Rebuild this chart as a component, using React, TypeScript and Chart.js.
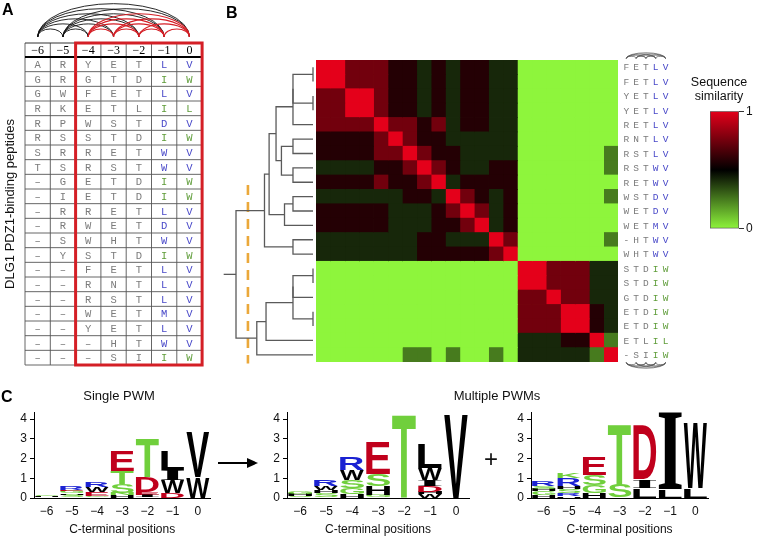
import React, { useEffect, useRef } from 'react';
import { Chart, registerables } from 'chart.js';

Chart.register(...registerables);

const FONT = '"Liberation Sans", Arial, Helvetica, sans-serif';
const MONO = '"Liberation Mono", "DejaVu Sans Mono", monospace';
const SERIF = '"Liberation Serif", "DejaVu Serif", serif';
Chart.defaults.font.family = FONT;
Chart.defaults.color = '#111';

// ---------------- data ----------------
const positionLabels = ['−6', '−5', '−4', '−3', '−2', '−1', '0'];

const peptides = [
  'ARYETLV', 'GRGTDIW', 'GWFETLV', 'RKETLIL', 'RPWSTDV', 'RSSTDIW', 'SRRETWV',
  'TSRSTWV', '-GETDIW', '-IETDIW', '-RRETLV', '-RWETDV', '-SWHTWV', '-YSTDIW',
  '--FETLV', '--RNTLV', '--RSTLV', '--WETMV', '--YETLV', '---HTWV', '---SIIW',
];

const clusterPeptides = [
  'FETLV', 'FETLV', 'YETLV', 'YETLV', 'RETLV', 'RNTLV', 'RSTLV', 'RSTWV', 'RETWV',
  'WSTDV', 'WETDV', 'WETMV', '-HTWV', 'WHTWV', 'STDIW', 'STDIW', 'GTDIW', 'ETDIW',
  'ETDIW', 'ETLIL', '-SIIW',
];

const similarity = [
  [1, 1, .75, .75, .75, .58, .58, .42, .58, .42, .58, .58, .42, .42, 0, 0, 0, 0, 0, 0, 0],
  [1, 1, .75, .75, .75, .58, .58, .42, .58, .42, .58, .58, .42, .42, 0, 0, 0, 0, 0, 0, 0],
  [.75, .75, 1, 1, .75, .58, .58, .42, .58, .42, .58, .58, .42, .42, 0, 0, 0, 0, 0, 0, 0],
  [.75, .75, 1, 1, .75, .58, .58, .42, .58, .42, .58, .58, .42, .42, 0, 0, 0, 0, 0, 0, 0],
  [.75, .75, .75, .75, 1, .75, .75, .58, .75, .42, .58, .58, .42, .42, 0, 0, 0, 0, 0, 0, 0],
  [.58, .58, .58, .58, .75, 1, .75, .58, .58, .42, .42, .42, .42, .42, 0, 0, 0, 0, 0, 0, 0],
  [.58, .58, .58, .58, .75, .75, 1, .75, .58, .58, .42, .42, .42, .42, 0, 0, 0, 0, 0, 0, .25],
  [.42, .42, .42, .42, .58, .58, .75, 1, .75, .58, .42, .42, .58, .58, 0, 0, 0, 0, 0, 0, .25],
  [.58, .58, .58, .58, .75, .58, .58, .75, 1, .42, .58, .58, .58, .58, 0, 0, 0, 0, 0, 0, 0],
  [.42, .42, .42, .42, .42, .42, .58, .58, .42, 1, .75, .58, .42, .58, 0, 0, 0, 0, 0, 0, .25],
  [.58, .58, .58, .58, .58, .42, .42, .42, .58, .75, 1, .75, .42, .58, 0, 0, 0, 0, 0, 0, 0],
  [.58, .58, .58, .58, .58, .42, .42, .42, .58, .58, .75, 1, .42, .58, 0, 0, 0, 0, 0, 0, 0],
  [.42, .42, .42, .42, .42, .42, .42, .58, .58, .42, .42, .42, 1, .75, 0, 0, 0, 0, 0, 0, .25],
  [.42, .42, .42, .42, .42, .42, .42, .58, .58, .58, .58, .58, .75, 1, 0, 0, 0, 0, 0, 0, 0],
  [0, 0, 0, 0, 0, 0, 0, 0, 0, 0, 0, 0, 0, 0, 1, 1, .75, .75, .75, .42, .42],
  [0, 0, 0, 0, 0, 0, 0, 0, 0, 0, 0, 0, 0, 0, 1, 1, .75, .75, .75, .42, .42],
  [0, 0, 0, 0, 0, 0, 0, 0, 0, 0, 0, 0, 0, 0, .75, .75, 1, .75, .75, .42, .42],
  [0, 0, 0, 0, 0, 0, 0, 0, 0, 0, 0, 0, 0, 0, .75, .75, .75, 1, 1, .58, .42],
  [0, 0, 0, 0, 0, 0, 0, 0, 0, 0, 0, 0, 0, 0, .75, .75, .75, 1, 1, .58, .42],
  [0, 0, 0, 0, 0, 0, 0, 0, 0, 0, 0, 0, 0, 0, .42, .42, .42, .58, .58, 1, .25],
  [0, 0, 0, 0, 0, 0, .25, .25, 0, .25, 0, 0, .25, 0, .42, .42, .42, .42, .42, .25, 1],
];

// dendrogram: leaves 0..20, merge k creates node 21+k
const linkLeft = [0, 2, 21, 23, 5, 7, 25, 24, 9, 29, 28, 12, 31, 14, 17, 34, 36, 37, 38, 33];
const linkRight = [1, 3, 22, 4, 6, 8, 26, 27, 10, 11, 30, 13, 32, 15, 18, 16, 35, 19, 20, 39];
const linkHeight = [0, 0, .26, .26, .26, .26, .41, .48, .26, .37, .57, .26, .63, 0, 0, .26, .26, .61, .73, 1.0];
const rootExtent = 1.16;
const cutHeight = 0.845;
const cutRows = [9.2, 21.6];

const colorbarTicks = [0, 1];
const bitTicks = [0, 1, 2, 3, 4];

// sequence logos: per position, letters bottom -> top with heights in bits
const singlePwm = [
  [['S', 0.05], ['H', 0.04], ['G', 0.05]],
  [['S', 0.15], ['H', 0.08], ['G', 0.12], ['E', 0.05], ['R', 0.18]],
  [['G', 0.1], ['E', 0.2], ['W', 0.25], ['R', 0.25]],
  [['H', 0.15], ['N', 0.1], ['S', 0.45], ['T', 0.65], ['E', 1.0]],
  [['I', 0.15], ['E', 0.15], ['D', 0.75], ['T', 1.95]],
  [['D', 0.25], ['W', 0.65], ['I', 0.5], ['L', 0.95]],
  [['W', 1.05], ['V', 2.25]],
];
const lvPwm = [
  [['S', 0.1], ['H', 0.1], ['G', 0.1]],
  [['S', 0.25], ['H', 0.15], ['W', 0.2], ['R', 0.3]],
  [['H', 0.2], ['G', 0.3], ['S', 0.42], ['W', 0.5], ['R', 0.63]],
  [['G', 0.15], ['H', 0.45], ['S', 0.6], ['E', 1.6]],
  [['T', 4.25]],
  [['W', 0.2], ['H', 0.1], ['D', 0.3], ['I', 0.3], ['W', 0.6], ['L', 1.2]],
  [['V', 4.25]],
];
const iwPwm = [
  [['H', 0.15], ['G', 0.2], ['H', 0.1], ['S', 0.15], ['R', 0.25]],
  [['H', 0.1], ['R', 0.15], ['S', 0.2], ['H', 0.15], ['R', 0.4], ['K', 0.27]],
  [['H', 0.25], ['G', 0.4], ['S', 0.5], ['E', 0.9]],
  [['S', 0.68], ['T', 3.1]],
  [['L', 0.5], ['I', 0.45], ['D', 2.75]],
  [['L', 0.4], ['I', 3.9]],
  [['L', 0.5], ['W', 3.3]],
];

// ---------------- helpers ----------------
const LIME = [142, 245, 60];
const RED = [228, 0, 26];
function heatColor(v: number) {
  let c: number[];
  if (v <= 0.5) c = LIME.map((a) => a * (1 - v / 0.5));
  else c = RED.map((a) => a * ((v - 0.5) / 0.5));
  return `rgb(${c.map((x) => Math.round(x)).join(',')})`;
}

const LETTER_COLORS: Record<string, string> = {
  S: '#70cf3c', T: '#70cf3c', G: '#70cf3c', Y: '#70cf3c', N: '#70cf3c', K: '#70cf3c',
  D: '#c0001c', E: '#c0001c', R: '#1b22d2',
};

const letterPlugin = {
  id: 'logoLetters',
  afterDatasetsDraw(chart: any) {
    const ctx = chart.ctx;
    chart.data.datasets.forEach((ds: any, di: number) => {
      const meta = chart.getDatasetMeta(di);
      meta.data.forEach((el: any, i: number) => {
        const letter = ds.letters[i];
        if (!letter) return;
        const p = el.getProps(['x', 'y', 'base', 'width'], true);
        if (!isFinite(p.y) || !isFinite(p.base)) return;
        const top = Math.min(p.y, p.base);
        const h = Math.abs(p.base - p.y);
        if (h < 0.4) return;
        ctx.save();
        ctx.font = letter === 'I' ? `bold 100px ${SERIF}` : `bold 100px ${FONT}`;
        ctx.textAlign = 'left';
        ctx.textBaseline = 'alphabetic';
        const m = ctx.measureText(letter);
        const gl = -m.actualBoundingBoxLeft;
        const gw = m.actualBoundingBoxRight - gl;
        const ga = m.actualBoundingBoxAscent;
        const gh = ga + m.actualBoundingBoxDescent;
        ctx.translate(p.x - p.width / 2, top);
        ctx.scale(p.width / gw, h / gh);
        ctx.fillStyle = LETTER_COLORS[letter] || '#000';
        ctx.fillText(letter, -gl, ga);
        ctx.restore();
      });
    });
  },
};

function makeLogoConfig(stacks: any[], padRight: number) {
  const depth = Math.max(...stacks.map((s) => s.length));
  const datasets: any[] = [];
  for (let k = 0; k < depth; k++) {
    datasets.push({
      data: stacks.map((s) => {
        if (k >= s.length) return null;
        const start = s.slice(0, k).reduce((a: number, b: any) => a + b[1], 0);
        return [start, start + s[k][1]];
      }),
      letters: stacks.map((s) => (s[k] ? s[k][0] : '')),
      backgroundColor: 'rgba(0,0,0,0)',
      borderWidth: 0,
      grouped: false,
      barPercentage: 0.92,
      categoryPercentage: 1,
    });
  }
  return {
    type: 'bar',
    data: { labels: positionLabels, datasets },
    options: {
      responsive: false,
      animation: false,
      events: [],
      layout: { padding: { top: 12.7, right: padRight, left: 0, bottom: 0 } },
      plugins: { legend: { display: false }, tooltip: { enabled: false } },
      scales: {
        x: {
          grid: { display: false, drawTicks: false },
          border: { display: true, color: '#000', width: 1 },
          ticks: { color: '#111', font: { size: 12 }, padding: 6, maxRotation: 0 },
          title: { display: true, text: 'C-terminal positions', color: '#111', font: { size: 12 }, padding: { top: 2, bottom: 3 } },
          afterFit: (s: any) => { s.height = 42; },
        },
        y: {
          min: 0,
          max: 4.32,
          afterBuildTicks: (s: any) => { s.ticks = bitTicks.map((v) => ({ value: v })); },
          afterFit: (s: any) => { s.width = 34; },
          ticks: { color: '#111', font: { size: 12 }, padding: 3 },
          grid: { drawOnChartArea: false, tickLength: 4, color: '#000' },
          border: { color: '#000', width: 1 },
        },
      },
    },
    plugins: [letterPlugin],
  };
}

function makeHeatmapConfig() {
  return {
    type: 'bar',
    data: {
      labels: clusterPeptides.map((p, i) => `${i + 1} ${p}`),
      datasets: clusterPeptides.map((_, j) => ({
        data: clusterPeptides.map(() => [j, j + 1]),
        backgroundColor: similarity.map((row) => heatColor(row[j])),
        borderWidth: 0,
        grouped: false,
        barPercentage: 1,
        categoryPercentage: 1,
        inflateAmount: 0.4,
      })),
    },
    options: {
      indexAxis: 'y',
      responsive: false,
      animation: false,
      events: [],
      layout: { padding: 0 },
      plugins: { legend: { display: false }, tooltip: { enabled: false } },
      scales: {
        x: { type: 'linear', min: 0, max: clusterPeptides.length, display: false },
        y: { display: false },
      },
    },
  };
}

function makeDendrogramConfig() {
  const nodeY: number[] = clusterPeptides.map((_, i) => i + 1);
  const nodeH: number[] = clusterPeptides.map(() => 0);
  const datasets: any[] = [];
  const line = { showLine: true, pointRadius: 0, borderColor: '#5a5a5a', borderWidth: 1.3, fill: false, tension: 0 };
  linkLeft.forEach((a, k) => {
    const b = linkRight[k];
    const h = linkHeight[k];
    datasets.push({
      ...line,
      data: [
        { x: nodeH[a], y: nodeY[a] },
        { x: h, y: nodeY[a] },
        { x: h, y: nodeY[b] },
        { x: nodeH[b], y: nodeY[b] },
      ],
    });
    nodeY.push((nodeY[a] + nodeY[b]) / 2);
    nodeH.push(h);
  });
  const root = nodeY.length - 1;
  datasets.push({ ...line, data: [{ x: nodeH[root], y: nodeY[root] }, { x: rootExtent, y: nodeY[root] }] });
  datasets.push({
    showLine: true, pointRadius: 0, borderColor: '#eba83a', borderWidth: 2.6, borderDash: [10, 7],
    data: [{ x: cutHeight, y: cutRows[0] }, { x: cutHeight, y: cutRows[1] }],
  });
  const pxPerUnit = 77;
  const xmin = -3 / pxPerUnit;
  const rowPx = 302 / 21;
  const ymin = 0.5 - 12 / rowPx;
  return {
    type: 'scatter',
    data: { datasets },
    options: {
      responsive: false,
      animation: false,
      events: [],
      layout: { padding: 0 },
      plugins: { legend: { display: false }, tooltip: { enabled: false } },
      scales: {
        x: { type: 'linear', reverse: true, min: xmin, max: xmin + 98 / pxPerUnit, display: false },
        y: { type: 'linear', reverse: true, min: ymin, max: ymin + 330 / rowPx, display: false },
      },
    },
  };
}

function makeColorbarConfig() {
  return {
    type: 'bar',
    data: {
      labels: ['similarity'],
      datasets: [{
        data: [[0, 1]],
        backgroundColor: (c: any) => {
          const a = c.chart.chartArea;
          if (!a) return '#000';
          const g = c.chart.ctx.createLinearGradient(0, a.bottom, 0, a.top);
          [0, 0.25, 0.5, 0.75, 1].forEach((v) => g.addColorStop(v, heatColor(v)));
          return g;
        },
        borderColor: '#555',
        borderWidth: 1,
        borderSkipped: false,
        barPercentage: 1,
        categoryPercentage: 1,
      }],
    },
    options: {
      responsive: false,
      animation: false,
      events: [],
      layout: { padding: { top: 8, bottom: 8, left: 0, right: 0 } },
      plugins: { legend: { display: false }, tooltip: { enabled: false } },
      scales: {
        x: { display: false },
        y: {
          position: 'right',
          min: 0,
          max: 1,
          afterBuildTicks: (s: any) => { s.ticks = colorbarTicks.map((v) => ({ value: v })); },
          afterFit: (s: any) => { s.width = 22; },
          grid: { drawOnChartArea: false, tickLength: 5, color: '#333' },
          border: { display: false },
          ticks: { padding: 2, font: { size: 12 }, color: '#111' },
        },
      },
    },
  };
}

function ChartBox({ left, top, width, height, make }: any) {
  const ref = useRef<HTMLCanvasElement | null>(null);
  useEffect(() => {
    if (!ref.current) return;
    const chart = new Chart(ref.current, make());
    return () => chart.destroy();
  }, []);
  return (
    <canvas
      ref={ref}
      width={width}
      height={height}
      style={{ position: 'absolute', left, top, width, height }}
    />
  );
}

// ---------------- static text / table overlay ----------------
function arcPath(x1: number, x2: number, y: number, h: number, up: boolean) {
  const rx = (x2 - x1) / 2;
  return `M ${x1} ${y} A ${rx} ${h} 0 0 ${up ? 1 : 0} ${x2} ${y}`;
}

function Overlay() {
  const colW = 25.3;
  const x0 = 25;
  const headTop = 43;
  const headBot = 57;
  const rowH = 14.667;
  const nRows = peptides.length;
  const tableBottom = headBot + nRows * rowH;
  const cx = (i: number) => x0 + (i + 0.5) * colW;
  const gray = '#7b7b7b';
  const blue = '#4848c8';
  const green = '#5e9c38';

  const arcs: any[] = [];
  const arcBase = 37;
  const pairs: [number, number][] = [];
  for (let i = 0; i < 7; i++) for (let j = i + 1; j < 7; j++) pairs.push([i, j]);
  pairs.filter(([i]) => i < 2).forEach(([i, j], k) => {
    const span = cx(j) - cx(i);
    arcs.push(<path key={'ab' + k} d={arcPath(cx(i), cx(j), arcBase, 3 + 0.2 * span, true)} stroke="#111" strokeWidth={0.9} fill="none" />);
  });
  pairs.filter(([i]) => i >= 2).forEach(([i, j], k) => {
    const span = cx(j) - cx(i);
    arcs.push(<path key={'ar' + k} d={arcPath(cx(i), cx(j), arcBase, 3 + 0.2 * span, true)} stroke="#d41f26" strokeWidth={1.1} fill="none" />);
  });

  const grid: any[] = [];
  for (let i = 0; i <= 7; i++) {
    grid.push(<line key={'v' + i} x1={x0 + i * colW} x2={x0 + i * colW} y1={headTop} y2={tableBottom} stroke="#555" strokeWidth={0.9} />);
  }
  grid.push(<line key="ht" x1={x0} x2={x0 + 7 * colW} y1={headTop} y2={headTop} stroke="#333" strokeWidth={1} />);
  for (let k = 1; k <= nRows; k++) {
    const y = headBot + k * rowH;
    grid.push(<line key={'h' + k} x1={x0} x2={x0 + 7 * colW} y1={y} y2={y} stroke="#555" strokeWidth={0.9} />);
  }
  grid.push(<line key="hb" x1={x0} x2={x0 + 7 * colW} y1={headBot} y2={headBot} stroke="#000" strokeWidth={2} />);

  const cells: any[] = [];
  positionLabels.forEach((p, i) => {
    cells.push(<text key={'hd' + i} x={cx(i)} y={(headTop + headBot) / 2 + 4.2} textAnchor="middle" fontFamily={SERIF} fontSize={12} fill="#000">{p}</text>);
  });
  peptides.forEach((pep, r) => {
    const endsV = pep[6] === 'V';
    pep.split('').forEach((ch, i) => {
      const col = i >= 5 ? (endsV ? blue : green) : gray;
      cells.push(
        <text key={`c${r}_${i}`} x={cx(i)} y={headBot + (r + 0.5) * rowH + 3.7} textAnchor="middle" fontFamily={MONO} fontSize={10.5} fill={col}>
          {ch === '-' ? '–' : ch}
        </text>,
      );
    });
  });

  // panel B labels
  const hmTop = 60;
  const hmRow = 302 / 21;
  const labX = (i: number) => 626.3 + i * 9.8;
  const labels: any[] = [];
  clusterPeptides.forEach((pep, r) => {
    const endsV = pep[4] === 'V';
    pep.split('').forEach((ch, i) => {
      const col = i >= 3 ? (endsV ? blue : green) : gray;
      labels.push(
        <text key={`l${r}_${i}`} x={labX(i)} y={hmTop + (r + 0.5) * hmRow + 3.3} textAnchor="middle" fontFamily={MONO} fontSize={9.5} fill={col}>
          {ch}
        </text>,
      );
    });
  });
  const miniArcs: any[] = [];
  for (let i = 0; i < 5; i++) {
    for (let j = i + 1; j < 5; j++) {
      const span = labX(j) - labX(i);
      miniArcs.push(<path key={`mt${i}${j}`} d={arcPath(labX(i), labX(j), 58.5, 1 + 0.12 * span, true)} stroke="#555" strokeWidth={0.7} fill="none" />);
      miniArcs.push(<path key={`mb${i}${j}`} d={arcPath(labX(i), labX(j), 362.5, 1 + 0.12 * span, false)} stroke="#555" strokeWidth={0.7} fill="none" />);
    }
  }

  return (
    <svg width={760} height={536} style={{ position: 'absolute', left: 0, top: 0, pointerEvents: 'none' }}>
      <text x={2} y={15} fontFamily={FONT} fontWeight="bold" fontSize={16} fill="#000">A</text>
      <text x={226} y={18} fontFamily={FONT} fontWeight="bold" fontSize={16} fill="#000">B</text>
      <text x={1} y={402} fontFamily={FONT} fontWeight="bold" fontSize={16} fill="#000">C</text>
      {arcs}
      {grid}
      {cells}
      <rect x={x0 + 2 * colW} y={headTop} width={5 * colW} height={tableBottom - headTop} stroke="#d41f26" strokeWidth={3} fill="none" />
      <text transform={`translate(14,204) rotate(-90)`} textAnchor="middle" fontFamily={FONT} fontSize={13} fill="#111">DLG1 PDZ1-binding peptides</text>
      {labels}
      {miniArcs}
      <text x={719} y={86} textAnchor="middle" fontFamily={FONT} fontSize={12.5} fill="#111">Sequence</text>
      <text x={719} y={100} textAnchor="middle" fontFamily={FONT} fontSize={12.5} fill="#111">similarity</text>
      <text x={119} y={400} textAnchor="middle" fontFamily={FONT} fontSize={13} fill="#111">Single PWM</text>
      <text x={497} y={400} textAnchor="middle" fontFamily={FONT} fontSize={13} fill="#111">Multiple PWMs</text>
      <line x1={218} x2={249} y1={463} y2={463} stroke="#000" strokeWidth={2} />
      <polygon points="258,463 247,458 247,468" fill="#000" />
      <text x={491} y={467} textAnchor="middle" fontFamily={FONT} fontSize={24} fill="#111">+</text>
    </svg>
  );
}

export default function App() {
  return (
    <div style={{ position: 'fixed', left: 0, top: 0, width: 760, height: 536, overflow: 'hidden', background: '#fff' }}>
      <ChartBox left={218} top={48} width={98} height={330} make={makeDendrogramConfig} />
      <ChartBox left={316} top={60} width={302} height={302} make={makeHeatmapConfig} />
      <ChartBox left={710} top={102} width={51} height={136} make={makeColorbarConfig} />
      <ChartBox left={0} top={400} width={215} height={140} make={() => makeLogoConfig(singlePwm, 215 - 34 - 7 * 25.2)} />
      <ChartBox left={253} top={400} width={221} height={140} make={() => makeLogoConfig(lvPwm, 221 - 34 - 7 * 26)} />
      <ChartBox left={497} top={400} width={218} height={140} make={() => makeLogoConfig(iwPwm, 218 - 34 - 7 * 25.3)} />
      <Overlay />
    </div>
  );
}
